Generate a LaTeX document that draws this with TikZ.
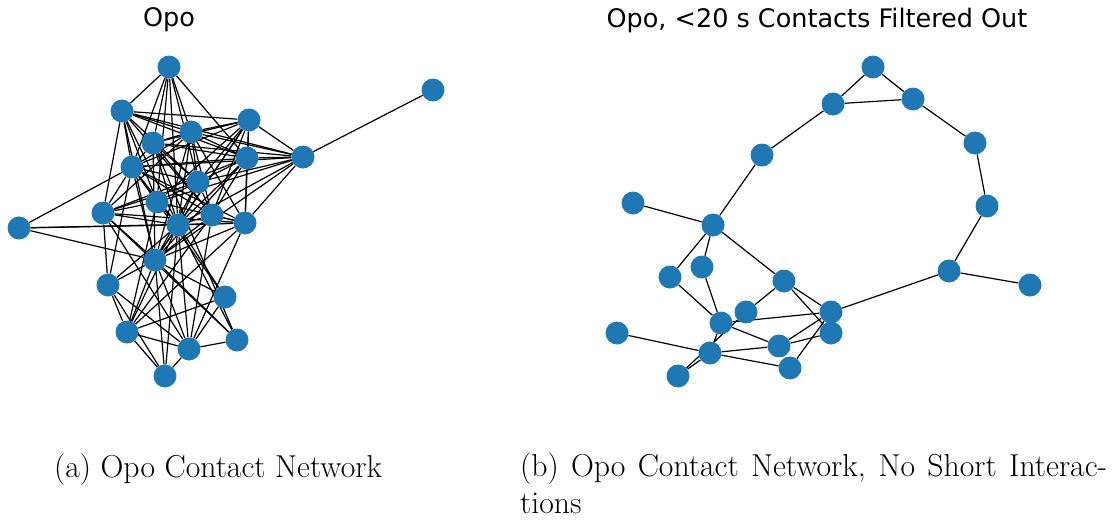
\documentclass[tikz,border=0pt]{standalone}
\usepackage{fontspec}
\newfontfamily\titlefont{DejaVu Sans}
\usetikzlibrary{backgrounds}
\definecolor{nxblue}{RGB}{31,119,180}
\tikzset{
    vertex/.style={
        circle,fill=nxblue,inner sep=0pt,minimum size=23pt
    },
    edge/.style={
        draw=black,line width=1.2pt
    },
    plottitle/.style={
        font=\titlefont\fontsize{25.5}{30}\selectfont,inner sep=0pt
    },
    subcap/.style={
        font=\fontsize{31.7}{36.5}\selectfont,inner sep=0pt
    }
}

\begin{document}
\begin{tikzpicture}[x=1pt,y=-1pt]
\useasboundingbox (0,0) rectangle (1120,522);

% full contact network
\node[vertex] (u1) at (169,67) {};
\node[vertex] (u2) at (122,111) {};
\node[vertex] (u3) at (249,120) {};
\node[vertex] (u4) at (191,132) {};
\node[vertex] (u5) at (153,143) {};
\node[vertex] (u6) at (247,158) {};
\node[vertex] (u7) at (303,157) {};
\node[vertex] (u8) at (433,90) {};
\node[vertex] (u9) at (132,167) {};
\node[vertex] (u10) at (198,182) {};
\node[vertex] (u11) at (157,202) {};
\node[vertex] (u12) at (103,213) {};
\node[vertex] (u13) at (212,215) {};
\node[vertex] (u14) at (178,225) {};
\node[vertex] (u15) at (245,223) {};
\node[vertex] (u16) at (19,228) {};
\node[vertex] (u17) at (155,260) {};
\node[vertex] (u18) at (108,285) {};
\node[vertex] (u19) at (225,297) {};
\node[vertex] (u20) at (127,332) {};
\node[vertex] (u21) at (189,349) {};
\node[vertex] (u22) at (237,340) {};
\node[vertex] (u23) at (165,376) {};

\begin{pgfonlayer}{background}
\foreach \a/\b in {u1/u2,u1/u4,u1/u5,u1/u9,u1/u11,u1/u14,u1/u10,u1/u6,
    u2/u3,u2/u4,u2/u6,u2/u7,u2/u9,u2/u12,u2/u11,u2/u14,u2/u10,u2/u17,u2/u13,
    u3/u7,u3/u5,u3/u9,u3/u10,u3/u11,u3/u13,u3/u14,u3/u17,u3/u4,u3/u6,u3/u15,
    u4/u5,u4/u9,u4/u10,u4/u13,u4/u14,u4/u12,u4/u17,u4/u6,u4/u7,u4/u15,
    u5/u9,u5/u10,u5/u13,u5/u14,u5/u6,u5/u7,u5/u17,u5/u22,
    u6/u9,u6/u10,u6/u13,u6/u14,u6/u15,u6/u7,u6/u12,u6/u17,
    u7/u8,u7/u9,u7/u14,u7/u15,u7/u17,u7/u10,u7/u11,
    u9/u12,u9/u16,u9/u14,u9/u10,u9/u13,u9/u15,u9/u18,u9/u11,u9/u17,u9/u19,
    u10/u11,u10/u14,u10/u12,u10/u13,u10/u17,
    u11/u12,u11/u14,u11/u15,u11/u20,
    u12/u14,u12/u15,u12/u17,u12/u18,u12/u22,u12/u21,
    u13/u14,u13/u15,u13/u17,u13/u20,u13/u21,
    u14/u16,u14/u15,u14/u17,u14/u18,u14/u19,u14/u20,u14/u21,u14/u22,u14/u23,
    u15/u16,u15/u17,u15/u20,u15/u21,
    u16/u17,
    u17/u18,u17/u19,u17/u20,u17/u21,u17/u23,u17/u22,
    u18/u20,u18/u21,u18/u23,
    u19/u20,u19/u21,
    u20/u21,u20/u23,
    u21/u23,u21/u22}
    \draw[edge] (\a) -- (\b);
\end{pgfonlayer}

% short contacts removed
\node[vertex] (f1) at (873,67) {};
\node[vertex] (f2) at (913,99) {};
\node[vertex] (f3) at (833,104) {};
\node[vertex] (f4) at (975,143) {};
\node[vertex] (f5) at (987,206) {};
\node[vertex] (f6) at (949,271) {};
\node[vertex] (f7) at (1030,285) {};
\node[vertex] (f8) at (762,155) {};
\node[vertex] (f9) at (633,203) {};
\node[vertex] (f10) at (713,225) {};
\node[vertex] (f11) at (670,277) {};
\node[vertex] (f12) at (702,267) {};
\node[vertex] (f13) at (784,281) {};
\node[vertex] (f14) at (746,312) {};
\node[vertex] (f15) at (831,312) {};
\node[vertex] (f16) at (831,333) {};
\node[vertex] (f17) at (721,323) {};
\node[vertex] (f18) at (617,333) {};
\node[vertex] (f19) at (779,346) {};
\node[vertex] (f20) at (710,353) {};
\node[vertex] (f21) at (790,368) {};
\node[vertex] (f22) at (678,376) {};

\begin{pgfonlayer}{background}
\foreach \a/\b in {f1/f2,f1/f3,f3/f2,f3/f8,f2/f4,f4/f5,f5/f6,f6/f7,f6/f15,
    f8/f10,f9/f10,f10/f11,f10/f12,f10/f13,f11/f17,f12/f17,
    f13/f14,f13/f15,f13/f16,f17/f15,f17/f19,f17/f20,f22/f20,f22/f14,
    f19/f15,f19/f16,f20/f19,f20/f21,f21/f15,f18/f20}
    \draw[edge] (\a) -- (\b);
\end{pgfonlayer}

\node[plottitle] (ta) at (169,20) {Opo};
\node[plottitle] (tb) at (817,20) {Opo, <20 s Contacts Filtered Out};

\node[subcap] (ca) at (218,470) {(a) Opo Contact Network};
\node[subcap,text width=587pt,align=justify,anchor=north west] (cb) at (520,453)
    {(b) Opo Contact Network, No Short Interac-\linebreak tions};

\end{tikzpicture}
\end{document}
